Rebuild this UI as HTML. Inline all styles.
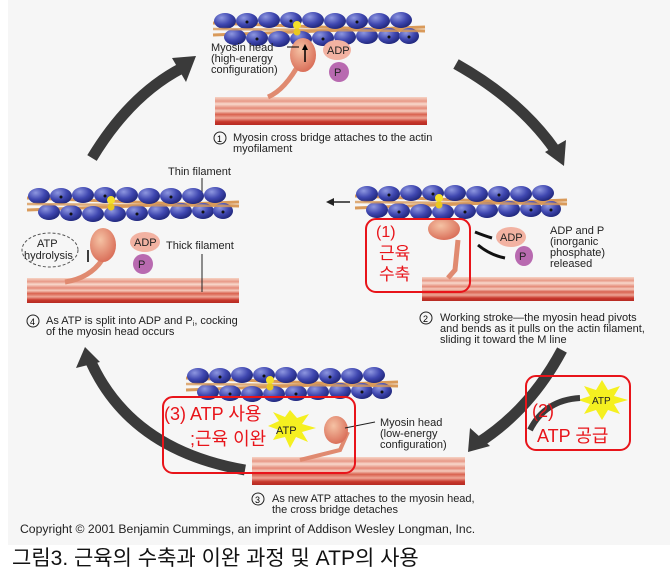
<!DOCTYPE html>
<html><head><meta charset="utf-8"><style>
html,body{margin:0;padding:0;background:#fff}
svg{display:block}
text{font-family:"Liberation Sans",sans-serif}
.k{font-family:"Liberation Sans","Noto Sans CJK KR",sans-serif}
</style></head><body>
<svg width="670" height="578" viewBox="0 0 670 578" xmlns="http://www.w3.org/2000/svg">
<defs>
<radialGradient id="bead" cx="0.35" cy="0.3" r="0.7">
<stop offset="0" stop-color="#8e97e0"/><stop offset="0.6" stop-color="#3f47b0"/><stop offset="1" stop-color="#232a80"/></radialGradient>
<radialGradient id="head" cx="0.4" cy="0.35" r="0.7">
<stop offset="0" stop-color="#f5c2a4"/><stop offset="1" stop-color="#d86a55"/></radialGradient>
<linearGradient id="thick" x1="0" y1="0" x2="0" y2="1">
<stop offset="0" stop-color="#f6d3c4"/><stop offset="0.15" stop-color="#e89a88"/><stop offset="0.25" stop-color="#f8d8cc"/>
<stop offset="0.4" stop-color="#e58a78"/><stop offset="0.5" stop-color="#f5cbbd"/><stop offset="0.62" stop-color="#d9624f"/>
<stop offset="0.75" stop-color="#eea595"/><stop offset="0.88" stop-color="#c8382c"/><stop offset="1" stop-color="#b62a22"/></linearGradient>
<g id="actin">
<line x1="0" y1="6" x2="212" y2="14" stroke="#d99a5a" stroke-width="3"/>
<line x1="0" y1="18" x2="212" y2="10" stroke="#d99a5a" stroke-width="3"/>
<g fill="url(#bead)">
<ellipse cx="12" cy="4" rx="11" ry="8"/><ellipse cx="34" cy="4" rx="11" ry="8"/><ellipse cx="56" cy="3" rx="11" ry="8"/><ellipse cx="78" cy="3" rx="11" ry="8"/><ellipse cx="100" cy="3" rx="11" ry="8"/><ellipse cx="122" cy="4" rx="11" ry="8"/><ellipse cx="144" cy="4" rx="11" ry="8"/><ellipse cx="166" cy="4" rx="11" ry="8"/><ellipse cx="188" cy="3" rx="11" ry="8"/>
<ellipse cx="22" cy="20" rx="11" ry="8"/><ellipse cx="44" cy="21" rx="11" ry="8"/><ellipse cx="66" cy="22" rx="11" ry="8"/><ellipse cx="88" cy="22" rx="11" ry="8"/><ellipse cx="110" cy="21" rx="11" ry="8"/><ellipse cx="132" cy="20" rx="11" ry="8"/><ellipse cx="154" cy="19" rx="11" ry="8"/><ellipse cx="176" cy="19" rx="11" ry="8"/><ellipse cx="196" cy="19" rx="10" ry="8"/>
</g>
<line x1="0" y1="12" x2="212" y2="14" stroke="#d99a5a" stroke-width="2.5" opacity="0.8"/>
<g fill="#111"><circle cx="34" cy="5" r="1.5"/><circle cx="78" cy="4" r="1.5"/><circle cx="144" cy="5" r="1.5"/><circle cx="44" cy="22" r="1.5"/><circle cx="110" cy="22" r="1.5"/><circle cx="176" cy="20" r="1.5"/><circle cx="196" cy="20" r="1.5"/></g>
<circle cx="84" cy="8" r="4" fill="#f4e02a"/><circle cx="84" cy="15" r="3.5" fill="#e8c820"/>
</g>
</defs>
<rect x="8" y="0" width="662" height="545" fill="#f6f6f6"/>

<g fill="none" stroke="#3a3a3a" stroke-width="11">
<path d="M92,158 Q130,95 182,68"/>
<path d="M456,64 Q520,100 555,150"/>
<path d="M562,350 Q530,410 478,443"/>
<path d="M245,470 Q130,450 90,360"/>
</g>
<g fill="#3a3a3a">
<polygon points="196,56 172,58 186,82"/>
<polygon points="564,166 545,152 566,140"/>
<polygon points="468,452 470,428 490,446"/>
<polygon points="85,347 76,368 100,362"/>
</g>

<!-- Panel 1 -->
<use href="#actin" x="213" y="17"/>
<rect x="215" y="97" width="212" height="28" fill="url(#thick)"/>
<path d="M268,97 Q285,90 300,62" stroke="#e08a70" stroke-width="5" fill="none"/>
<ellipse cx="303" cy="55" rx="13" ry="17" fill="url(#head)"/>
<line x1="305" y1="62" x2="305" y2="48" stroke="#000" stroke-width="1.5"/><polygon points="302,50 308,50 305,44" fill="#000"/>
<ellipse cx="337" cy="50" rx="14" ry="10" fill="#f2b2a2"/><text x="327" y="54" font-size="11" fill="#222">ADP</text>
<ellipse cx="339" cy="72" rx="10" ry="10" fill="#b86ab0"/><text x="334" y="76" font-size="11" fill="#222">P</text>
<line x1="287" y1="47" x2="299" y2="47" stroke="#000"/>
<text font-size="11" fill="#222"><tspan x="211" y="51">Myosin head</tspan><tspan x="211" y="62">(high-energy</tspan><tspan x="211" y="73">configuration)</tspan></text>
<circle cx="220" cy="138" r="6" fill="none" stroke="#222"/><text x="217" y="142" font-size="9">1</text>
<text font-size="11" fill="#222"><tspan x="233" y="141">Myosin cross bridge attaches to the actin</tspan><tspan x="233" y="152">myofilament</tspan></text>

<!-- Panel 4 -->
<text x="168" y="175" font-size="11" fill="#222">Thin filament</text>
<line x1="202" y1="178" x2="202" y2="194" stroke="#222"/>
<use href="#actin" x="27" y="192"/>
<rect x="27" y="278" width="212" height="25" fill="url(#thick)"/>
<path d="M65,282 Q90,278 102,260" stroke="#e08a70" stroke-width="5" fill="none"/>
<ellipse cx="103" cy="245" rx="13" ry="17" fill="url(#head)"/>
<ellipse cx="145" cy="242" rx="15" ry="10" fill="#f2b2a2"/><text x="134" y="246" font-size="11" fill="#222">ADP</text>
<ellipse cx="143" cy="264" rx="10" ry="10" fill="#b86ab0"/><text x="138" y="268" font-size="11" fill="#222">P</text>
<ellipse cx="50" cy="250" rx="28" ry="17" fill="none" stroke="#555" stroke-dasharray="3,2"/>
<text font-size="11" fill="#222"><tspan x="37" y="247">ATP</tspan><tspan x="24" y="259">hydrolysis</tspan></text>
<line x1="88" y1="262" x2="88" y2="250" stroke="#000" stroke-width="1.5"/>
<text x="166" y="249" font-size="11" fill="#222">Thick filament</text>
<line x1="202" y1="254" x2="202" y2="292" stroke="#222"/>
<circle cx="33" cy="321" r="6" fill="none" stroke="#222"/><text x="30" y="325" font-size="9">4</text>
<text font-size="11" fill="#222"><tspan x="46" y="324">As ATP is split into ADP and P</tspan><tspan dy="2" font-size="7">i</tspan><tspan dy="-2">, cocking</tspan><tspan x="46" y="335">of the myosin head occurs</tspan></text>

<!-- Panel 2 -->
<line x1="332" y1="202" x2="350" y2="202" stroke="#222" stroke-width="1.5"/><polygon points="326,202 334,198 334,206" fill="#222"/>
<use href="#actin" x="355" y="190"/>
<rect x="422" y="277" width="212" height="24" fill="url(#thick)"/>
<path d="M448,278 L455,270 L458,240" stroke="#e08a70" stroke-width="5" fill="none"/>
<ellipse cx="444" cy="229" rx="16" ry="11" fill="url(#head)"/>
<path d="M475,232 Q485,236 492,238" stroke="#111" stroke-width="3" fill="none"/>
<path d="M478,245 Q490,255 505,258" stroke="#111" stroke-width="3" fill="none"/>
<ellipse cx="511" cy="237" rx="15" ry="10" fill="#f2b2a2"/><text x="500" y="241" font-size="11" fill="#222">ADP</text>
<ellipse cx="524" cy="256" rx="9" ry="10" fill="#b86ab0"/><text x="519" y="260" font-size="11" fill="#222">P</text>
<text font-size="11" fill="#222"><tspan x="550" y="234">ADP and P</tspan><tspan x="550" y="245">(inorganic</tspan><tspan x="550" y="256">phosphate)</tspan><tspan x="550" y="267">released</tspan></text>
<circle cx="426" cy="318" r="6" fill="none" stroke="#222"/><text x="423" y="322" font-size="9">2</text>
<text font-size="11" fill="#222"><tspan x="440" y="321">Working stroke—the myosin head pivots</tspan><tspan x="440" y="332">and bends as it pulls on the actin filament,</tspan><tspan x="440" y="343">sliding it toward the M line</tspan></text>
<rect x="366" y="219" width="104" height="73" rx="10" fill="none" stroke="#e8141a" stroke-width="2"/>
<text class="k" font-size="16" fill="#e8141a"><tspan x="376" y="237">(1)</tspan></text>
<text class="k" font-size="17" fill="#e8141a"><tspan x="379" y="259">근육</tspan><tspan x="379" y="280">수축</tspan></text>

<!-- Panel 3 -->
<use href="#actin" x="186" y="372"/>
<rect x="252" y="457" width="213" height="28" fill="url(#thick)"/>
<path d="M300,460 L340,450 L348,432" stroke="#e08a70" stroke-width="4" fill="none"/>
<ellipse cx="336" cy="430" rx="12" ry="14" fill="url(#head)"/>
<polygon points="290,410 297,418 309,414 302,424 316,428 302,432 308,442 296,437 290,448 285,437 273,440 279,430 268,426 279,421 273,412 285,417" fill="#f5f020"/>
<text x="276" y="434" font-size="11" fill="#222">ATP</text>
<line x1="345" y1="428" x2="375" y2="422" stroke="#222"/>
<text font-size="11" fill="#222"><tspan x="380" y="426">Myosin head</tspan><tspan x="380" y="437">(low-energy</tspan><tspan x="380" y="448">configuration)</tspan></text>
<circle cx="258" cy="499" r="6" fill="none" stroke="#222"/><text x="255" y="503" font-size="9">3</text>
<text font-size="11" fill="#222"><tspan x="272" y="502">As new ATP attaches to the myosin head,</tspan><tspan x="272" y="513">the cross bridge detaches</tspan></text>
<rect x="163" y="397" width="192" height="76" rx="10" fill="none" stroke="#e8141a" stroke-width="2"/>
<text class="k" font-size="18" fill="#e8141a"><tspan x="164" y="420">(3) ATP 사용</tspan><tspan x="190" y="445">;근육 이완</tspan></text>

<!-- ATP supply -->
<polygon points="602,380 608,390 620,386 614,396 628,400 614,404 620,414 608,410 602,420 596,410 584,414 590,404 578,400 590,396 584,386 596,390" fill="#f5f020"/>
<text x="592" y="404" font-size="10" fill="#222">ATP</text>
<path d="M580,398 Q545,400 530,430" stroke="#3a3a3a" stroke-width="6" fill="none"/>
<rect x="526" y="376" width="104" height="74" rx="10" fill="none" stroke="#e8141a" stroke-width="2"/>
<text class="k" font-size="18" fill="#e8141a"><tspan x="532" y="417">(2)</tspan><tspan x="537" y="442">ATP 공급</tspan></text>

<text x="20" y="533" font-size="12.2" fill="#222">Copyright © 2001 Benjamin Cummings, an imprint of Addison Wesley Longman, Inc.</text>
<text class="k" x="12" y="565" font-size="21" fill="#111">그림3. 근육의 수축과 이완 과정 및 ATP의 사용</text>
</svg>
</body></html>
